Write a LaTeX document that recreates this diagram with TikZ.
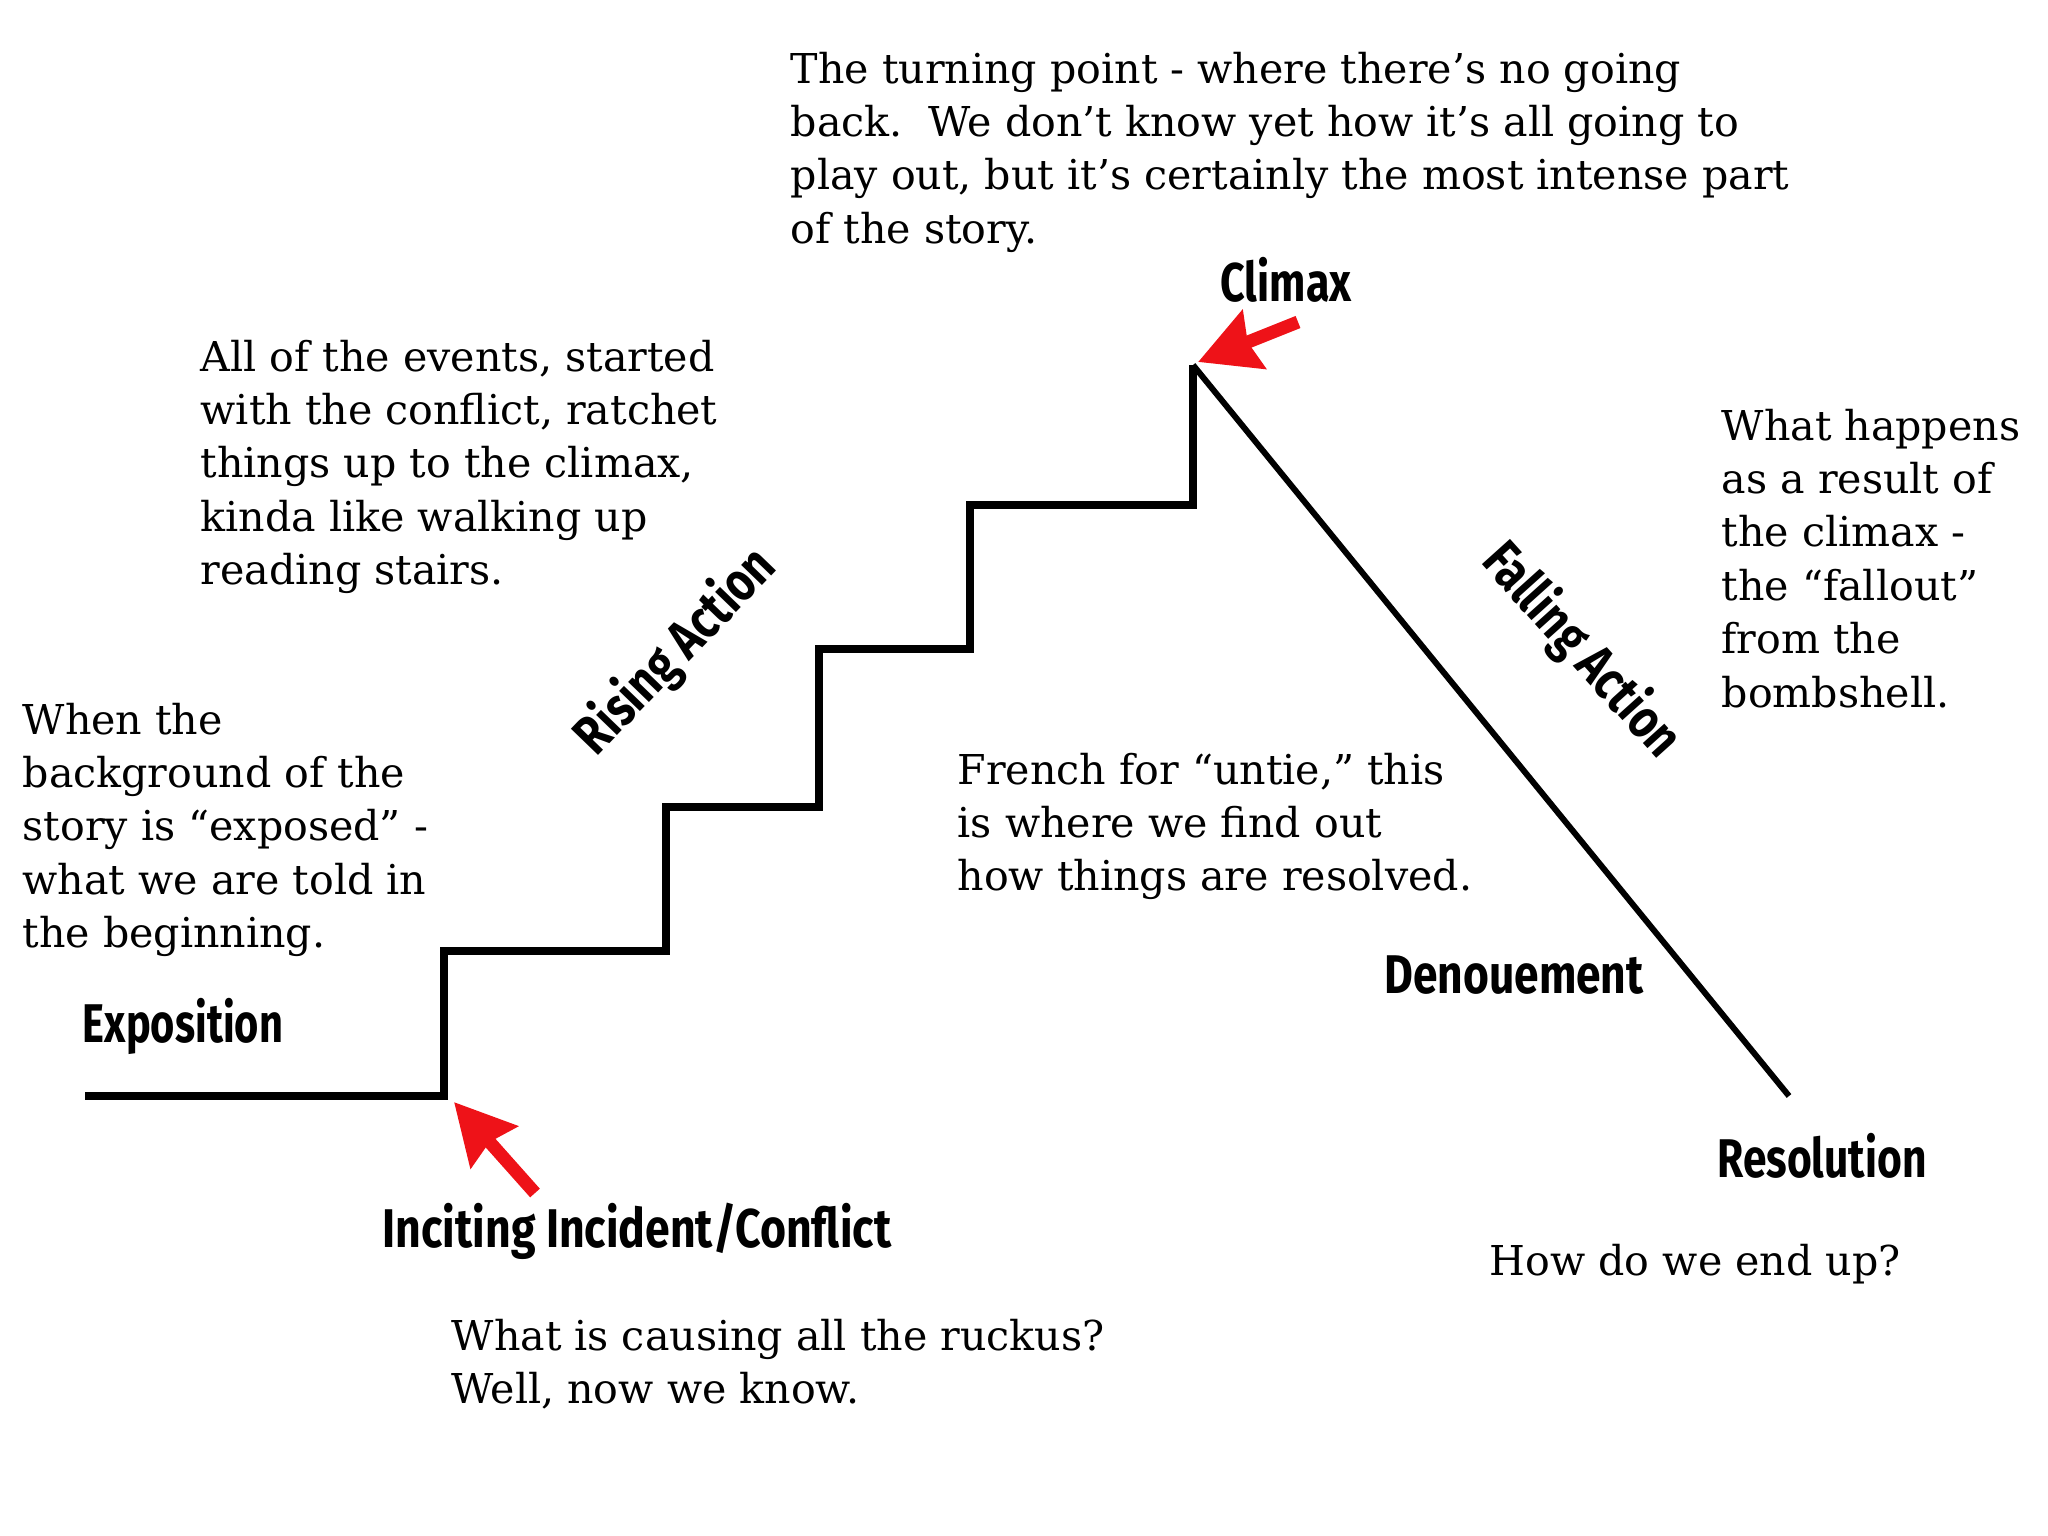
\documentclass[tikz,border=0pt]{standalone}
\usepackage{fontspec}
\setmainfont{DejaVu Serif}
\newfontfamily\labfont{Fira Sans}
\usepackage{graphicx}
\usetikzlibrary{arrows.meta}
\definecolor{arrowred}{RGB}{238,18,24}
\newcommand\txtblock[1]{\begin{tabular}[t]{@{}l@{}}#1\end{tabular}}
\newcommand\labw[2]{\resizebox{#1}{\height}{#2}}
\begin{document}
\begin{tikzpicture}[x=0.01cm,y=-0.01cm,
  body/.style={font=\fontsize{11.7pt}{15.2pt}\selectfont, anchor=base west, inner sep=0pt},
  lab/.style={font=\labfont\bfseries\fontsize{15.5pt}{17pt}\selectfont, inner sep=0pt, anchor=base},
  stair/.style={line width=2.5pt, line join=miter, line cap=butt},
  fall/.style={line width=1.7pt, line cap=butt},
  redarrow/.style={draw=arrowred, line width=3.7pt, -{Stealth[length=17pt,width=17.5pt,inset=1.8pt]}}]
\fill[white] (0,0) rectangle (2048,1536);
\useasboundingbox (0,0) rectangle (2048,1536);

% staircase
\coordinate (s0) at (85,1096);
\coordinate (s1) at (444,1096);
\coordinate (s2) at (444,951);
\coordinate (s3) at (666,951);
\coordinate (s4) at (666,807);
\coordinate (s5) at (819,807);
\coordinate (s6) at (819,649);
\coordinate (s7) at (970,649);
\coordinate (s8) at (970,505);
\coordinate (s9) at (1193,505);
\coordinate (peak) at (1193,365);
\coordinate (end) at (1789,1096);
\draw[stair] (s0) -- (s1) -- (s2) -- (s3) -- (s4) -- (s5) -- (s6) -- (s7) -- (s8) -- (s9) -- (peak);
\draw[fall] (peak) -- (end);

% labels
\node[lab] (expo) at (183,1042) {\labw{2.00cm}{Exposition}};
\node[lab] (climax) at (1286,301) {\labw{1.31cm}{Climax}};
\node[lab] (incite) at (637,1247) {\labw{5.08cm}{Inciting Incident/Conflict}};
\node[lab] (denoue) at (1514,993) {\labw{2.59cm}{Denouement}};
\node[lab] (resol) at (1822,1177) {\labw{2.09cm}{Resolution}};
\node[lab, anchor=center, rotate=46] (rising) at (676,652) {\labw{2.62cm}{Rising Action}};
\node[lab, anchor=center, rotate=-48] (falling) at (1581,651) {\labw{2.66cm}{Falling Action}};

% red arrows
\coordinate (inctail) at (535,1193);
\coordinate (inctip) at (454,1102);
\coordinate (climtail) at (1298,322);
\coordinate (climtip) at (1198,362);
\draw[redarrow] (inctail) -- (inctip);
\draw[redarrow] (climtail) -- (climtip);

% text blocks
\node[body] (b1) at (790,83) {\txtblock{The turning point - where there’s no going\\ back.\ \ We don’t know yet how it’s all going to\\ play out, but it’s certainly the most intense part\\ of the story.}};
\node[body] (b2) at (200,371) {\txtblock{All of the events, started\\ with the conflict, ratchet\\ things up to the climax,\\ kinda like walking up\\ reading stairs.}};
\node[body] (b3) at (1721,440) {\txtblock{What happens\\ as a result of\\ the climax -\\ the “fallout”\\ from the\\ bombshell.}};
\node[body] (b4) at (22,734) {\txtblock{When the\\ background of the\\ story is “exposed” -\\ what we are told in\\ the beginning.}};
\node[body] (b5) at (957,784) {\txtblock{French for “untie,” this\\ is where we find out\\ how things are resolved.}};
\node[body] (b6) at (451,1350) {\txtblock{What is causing all the ruckus?\\ Well, now we know.}};
\node[body] (b7) at (1489,1275) {\txtblock{How do we end up?}};
\end{tikzpicture}
\end{document}
